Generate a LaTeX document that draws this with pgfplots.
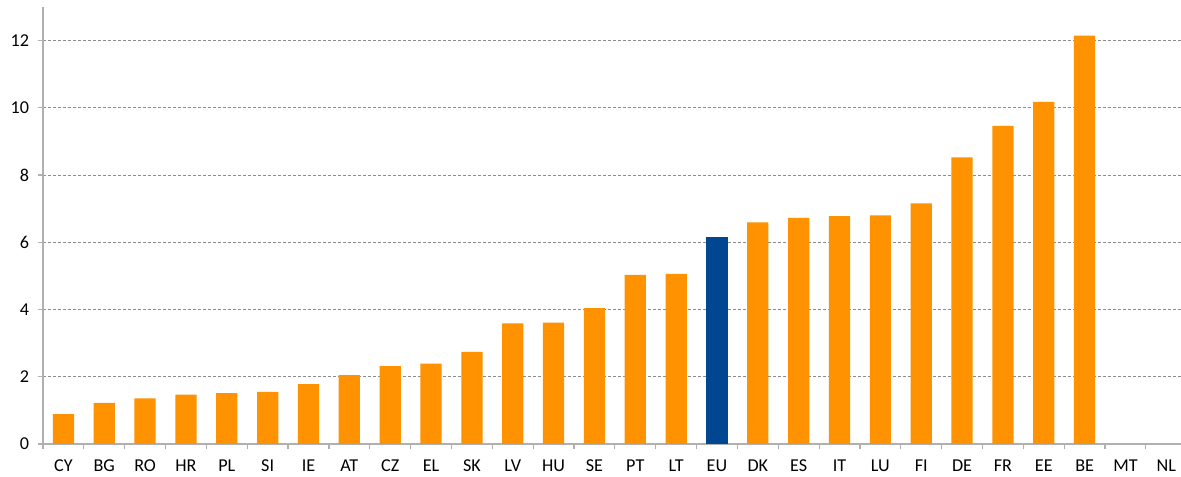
\documentclass[border=0pt]{standalone}
\usepackage{pgfplots}
\pgfplotsset{compat=1.18}
\usepackage{fontspec}
\setmainfont{Carlito}
\definecolor{barorange}{RGB}{255,146,0}
\definecolor{barblue}{RGB}{0,70,145}
\definecolor{axgray}{RGB}{176,176,176}
\definecolor{gridgray}{RGB}{140,140,140}
\begin{document}
\begin{tikzpicture}
\begin{axis}[
  name=ax,
  scale only axis,
  width=569bp, height=218.5bp,
  xmin=-0.5, xmax=27.36,
  ymin=0, ymax=13,
  ytick={0,2,4,6,8,10,12},
  xtick={0,...,27},
  xticklabels={CY,BG,RO,HR,PL,SI,IE,AT,CZ,EL,SK,LV,HU,SE,PT,LT,EU,DK,ES,IT,LU,FI,DE,FR,EE,BE,MT,NL},
  minor xtick={-0.5,0.5,...,26.5},
  major x tick style={draw=none},
  tick align=outside,
  tick pos=left,
  major tick length=2.5bp,
  minor tick length=2.5bp,
  every tick/.style={axgray, line width=0.6bp},
  axis x line*=bottom,
  axis y line*=left,
  axis line style={axgray, line width=1bp, -},
  ymajorgrids,
  grid style={gridgray, dashed, line width=0.4bp, dash pattern=on 1.5bp off 1bp},
  ybar,
  bar width=0.52,
  bar shift=0pt,
  ticklabel style={font=\fontsize{9.1}{11}\selectfont, text=black},
  /pgf/number format/assume math mode=true,
  xticklabel style={yshift=-2bp},
  yticklabel style={xshift=-1bp},
  clip=false,
]
\addplot[fill=barorange, draw=none] coordinates {
(0,0.89) (1,1.22) (2,1.36) (3,1.47) (4,1.51) (5,1.55) (6,1.78) (7,2.05)
(8,2.32) (9,2.39) (10,2.74) (11,3.59) (12,3.61) (13,4.04) (14,5.03) (15,5.06)
(17,6.59) (18,6.73) (19,6.78) (20,6.80) (21,7.16) (22,8.53) (23,9.46) (24,10.18) (25,12.15)
};
\addplot[fill=barblue, draw=none] coordinates {(16,6.16)};
\end{axis}
\pgfresetboundingbox
\path[use as bounding box] ([xshift=-21.5bp,yshift=-16.5bp]ax.south west) rectangle ([yshift=3.5bp]ax.north east);
\end{tikzpicture}
\end{document}
